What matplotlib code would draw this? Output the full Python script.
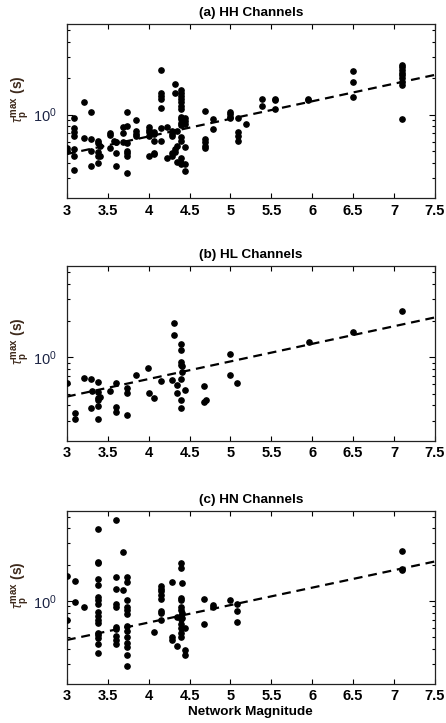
#!/usr/bin/env python

import numpy as np
import matplotlib
matplotlib.use('Agg')
import matplotlib.pyplot as plt
from matplotlib.ticker import LogLocator, NullFormatter

plt.rcParams['font.family'] = ['Liberation Sans', 'DejaVu Sans']
plt.rcParams['mathtext.fontset'] = 'custom'
plt.rcParams['mathtext.rm'] = 'Liberation Sans'
plt.rcParams['mathtext.it'] = 'Liberation Sans:italic'
plt.rcParams['mathtext.bf'] = 'Liberation Sans:bold'

# ----------------------------------------------------------
# tau_p^max per event, grouped by network magnitude
# ----------------------------------------------------------
hh_points = [
    (3.00, [0.53, 0.50]),
    (3.09, [0.94, 0.77, 0.72, 0.67, 0.52, 0.46, 0.35]),
    (3.21, [1.27, 0.64]),
    (3.29, [1.06, 0.63, 0.50, 0.38]),
    (3.38, [0.61, 0.58, 0.49, 0.46, 0.40]),
    (3.40, [0.55, 0.455]),
    (3.53, [0.70, 0.675, 0.53]),
    (3.57, [0.61]),
    (3.60, [0.60, 0.59, 0.485, 0.38]),
    (3.68, [0.79, 0.71, 0.59]),
    (3.73, [1.06, 0.81, 0.58, 0.50, 0.48, 0.46, 0.33]),
    (3.85, [0.90, 0.73, 0.69, 0.67]),
    (4.00, [0.79, 0.75, 0.72, 0.67, 0.455]),
    (4.06, [0.72, 0.69, 0.61, 0.48, 0.47]),
    (4.15, [2.32, 1.50, 1.43, 1.34, 1.14, 0.78, 0.61]),
    (4.23, [0.79, 0.44]),
    (4.29, [0.73, 0.69, 0.67, 0.48, 0.455]),
    (4.32, [1.78, 1.50, 0.52, 0.49]),
    (4.35, [0.73, 0.55, 0.41]),
    (4.40, [1.60, 1.52, 1.43, 1.34, 1.26, 1.18, 1.11, 0.96, 0.915,
            0.85, 0.82, 0.66, 0.61, 0.44, 0.40, 0.39]),
    (4.45, [0.93, 0.89, 0.83, 0.54, 0.39, 0.34]),
    (4.69, [1.07, 0.625, 0.59, 0.55, 0.53]),
    (4.79, [0.915, 0.76]),
    (4.99, [1.06, 1.01, 0.96, 0.93]),
    (5.09, [0.93, 0.72, 0.67, 0.61]),
    (5.19, [0.84]),
    (5.39, [1.34, 1.18]),
    (5.54, [1.34, 1.31, 1.11]),
    (5.95, [1.34, 1.31]),
    (6.50, [2.27, 1.84, 1.40]),
    (7.10, [2.57, 2.45, 2.32, 2.20, 2.11, 2.02, 1.84, 1.75, 0.915]),
]

hl_points = [
    (3.00, [0.614]),
    (3.10, [0.349, 0.311]),
    (3.21, [0.675]),
    (3.29, [0.658, 0.381]),
    (3.31, [0.527]),
    (3.38, [0.625, 0.517, 0.461, 0.441, 0.396, 0.307]),
    (3.40, [0.47]),
    (3.53, [0.527]),
    (3.60, [0.614, 0.389, 0.353]),
    (3.73, [0.561, 0.511, 0.336]),
    (3.85, [0.719]),
    (3.99, [0.821]),
    (4.01, [0.511]),
    (4.06, [0.461]),
    (4.15, [0.641]),
    (4.29, [0.654]),
    (4.31, [1.90, 1.51]),
    (4.35, [0.594, 0.507]),
    (4.39, [1.28, 1.14, 0.915, 0.859, 0.667, 0.447, 0.381]),
    (4.41, [0.848, 0.756]),
    (4.45, [0.541]),
    (4.68, [0.580, 0.428]),
    (4.70, [0.441]),
    (5.00, [1.07, 0.71]),
    (5.08, [0.614]),
    (5.96, [1.34]),
    (6.50, [1.60]),
    (7.10, [2.40]),
]

hn_points = [
    (3.00, [1.60, 0.692]),
    (3.10, [1.46, 0.975]),
    (3.21, [0.881]),
    (3.38, [3.94, 2.10, 2.06, 1.51, 1.35, 1.08, 1.01, 0.933, 0.811,
            0.751, 0.692, 0.658, 0.537, 0.520, 0.489, 0.438, 0.372]),
    (3.60, [4.73, 1.58, 1.26, 0.939, 0.881, 0.602, 0.580, 0.514,
            0.473, 0.438]),
    (3.68, [2.54, 1.24]),
    (3.73, [1.58, 1.44, 1.01, 0.892, 0.837, 0.776, 0.621, 0.565,
            0.504, 0.444, 0.411, 0.356, 0.285]),
    (4.06, [0.554]),
    (4.15, [1.33, 1.26, 1.21, 1.11, 1.045, 0.826, 0.786, 0.692]),
    (4.29, [1.44, 0.498, 0.473]),
    (4.35, [0.738, 0.422]),
    (4.39, [2.07, 1.87, 1.065, 1.01, 0.892, 0.837, 0.751, 0.701,
            0.641, 0.591, 0.544, 0.504]),
    (4.41, [1.41, 0.786, 0.714]),
    (4.45, [0.598, 0.391, 0.356]),
    (4.68, [1.045, 0.646]),
    (4.79, [0.921, 0.881]),
    (5.00, [1.01]),
    (5.08, [0.933, 0.822, 0.667]),
    (7.10, [2.61, 1.85, 1.79]),
]

# log10(tau) = fit_slope * M + fit_intercept
fit_slope = 0.145
fit_intercept = -0.76

panel_titles = ['(a) HH Channels', '(b) HL Channels', '(c) HN Channels']
x_ticks = [3, 3.5, 4, 4.5, 5, 5.5, 6, 6.5, 7, 7.5]


def expand(points):
    mags, taus = [], []
    for m, vals in points:
        mags += [m] * len(vals)
        taus += vals
    return np.array(mags), np.array(taus)


fig = plt.figure(figsize=(4.46, 7.23), dpi=100)
axes_boxes = [
    [0.150, 0.726, 0.825, 0.241],
    [0.150, 0.3905, 0.825, 0.241],
    [0.150, 0.0544, 0.825, 0.239],
]

for box, title, points in zip(axes_boxes, panel_titles,
                              [hh_points, hl_points, hn_points]):
    ax = fig.add_axes(box)
    mags, taus = expand(points)
    ax.plot(mags, taus, 'o', color='black', markersize=3.8, zorder=3)

    # fitted trend across the whole magnitude axis
    m_line = np.linspace(x_ticks[0], x_ticks[-1], 50)
    ax.plot(m_line, 10 ** (fit_slope * m_line + fit_intercept), '--',
            color='black', linewidth=1.6, dashes=(4, 2.6), zorder=2)

    ax.set_yscale('log')
    ax.set_xlim(x_ticks[0], x_ticks[-1])
    ax.set_ylim(0.205, 5.6)
    ax.set_xticks(x_ticks)
    ax.set_xticklabels([f'{t:g}' for t in x_ticks], fontweight='bold',
                       fontsize=10.5)
    ax.yaxis.set_major_locator(LogLocator(base=10))
    ax.yaxis.set_minor_locator(LogLocator(base=10, subs=np.arange(2, 10)))
    ax.yaxis.set_minor_formatter(NullFormatter())
    for lbl in ax.get_yticklabels():
        lbl.set_color('#1c2444')
        lbl.set_fontsize(10.5)

    ax.tick_params(which='both', direction='in', top=True, right=True,
                   width=0.8)
    ax.tick_params(axis='x', which='major', length=3.5, pad=4)
    ax.tick_params(axis='y', which='major', length=4.5, pad=7)
    ax.tick_params(axis='y', which='minor', length=2.5)
    for sp in ax.spines.values():
        sp.set_linewidth(0.9)
        sp.set_color('#222222')

    ax.set_title(title, fontsize=9.7, fontweight='bold', pad=6)
    ax.set_ylabel(r'$\tau_\mathbf{p}^\mathbf{max}$ (s)', fontsize=10,
                  fontweight='bold', color='#3e2a1c')
    ax.yaxis.set_label_coords(-0.097, 0.57)

ax.set_xlabel('Network Magnitude', fontsize=9.7, fontweight='bold',
              labelpad=2)

fig.savefig('out.png', dpi=100)
